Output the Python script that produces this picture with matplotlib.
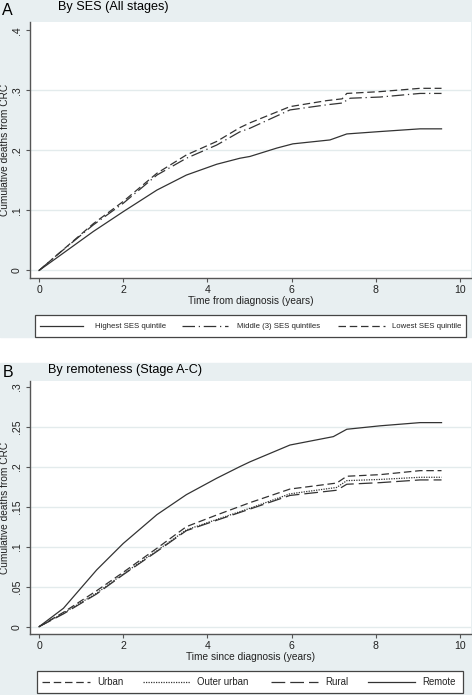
import matplotlib
matplotlib.use("Agg")
import matplotlib.pyplot as plt
from matplotlib.patches import Rectangle
from matplotlib.lines import Line2D

plt.rcParams['font.family'] = ['Liberation Sans', 'DejaVu Sans']

# Panel A: by SES (all stages)
ses_labels = ["Highest SES quintile", "Middle (3) SES quintiles", "Lowest SES quintile"]
t_high = [0, 0.38, 1.29, 2.0, 2.8, 3.5, 4.22, 4.77, 5.01, 5.65, 6.03, 6.91, 7.31, 8.1, 9.05, 9.56]
v_high = [0, .019, .065, .098, .134, .159, .177, .187, .190, .204, .211, .2175, .2275, .2315, .236, .236]
t_mid = [0, 0.38, 1.29, 2.0, 2.8, 3.5, 4.22, 4.77, 5.01, 5.96, 6.83, 7.2, 7.39, 8.1, 9.05, 9.56]
v_mid = [0, .023, .076, .112, .159, .187, .209, .231, .237, .2675, .276, .279, .287, .289, .295, .295]
t_low = [0, 0.38, 1.29, 2.0, 2.8, 3.5, 4.22, 4.77, 5.01, 5.96, 6.83, 7.2, 7.31, 8.1, 9.05, 9.56]
v_low = [0, .023, .078, .115, .162, .1925, .215, .238, .246, .273, .283, .286, .295, .298, .3035, .3035]

# Panel B: by remoteness (stage A-C)
rem_labels = ["Urban", "Outer urban", "Rural", "Remote"]
t_remote = [0, 0.58, 1.37, 2.0, 2.8, 3.5, 4.22, 4.77, 5.01, 5.96, 6.99, 7.31, 8.1, 9.05, 9.56]
v_remote = [0, .023, .071, .104, .140, .165, .1855, .200, .206, .227, .2375, .2467, .251, .255, .255]
t_rem3 = [0, 0.58, 1.37, 2.0, 2.8, 3.5, 4.22, 5.01, 5.96, 7.07, 7.31, 8.1, 9.05, 9.56]
v_urban = [0, .018, .045, .068, .098, .125, .1396, .155, .172, .1795, .188, .190, .195, .195]
v_outer = [0, .017, .042, .066, .095, .121, .134, .148, .166, .174, .1825, .184, .1867, .1867]
v_rural = [0, .016, .041, .065, .094, .120, .133, .147, .164, .1705, .178, .180, .1834, .1834]

W, H = 472, 695
BG = '#e8eff1'
GRID = '#e3ebec'
LC = '#333333'

fig = plt.figure(figsize=(W / 100, H / 100), dpi=100)


def fx(x):
    return x / W


def fy(y):
    return 1 - y / H


# light panel backgrounds (behind the axes)
fig.patches.append(Rectangle((0, fy(337)), 1, 337 / H, transform=fig.transFigure,
                             color=BG, zorder=-10))
fig.patches.append(Rectangle((0, fy(695)), 1, (695 - 363) / H, transform=fig.transFigure,
                             color=BG, zorder=-10))

styles_a = [dict(ls='-'), dict(ls=(0, (10, 3, 1, 3))), dict(ls=(0, (6, 3)))]
styles_b = [dict(ls=(0, (6, 3))), dict(ls=(0, (1, 1))), dict(ls=(0, (11, 4))), dict(ls='-')]


def setup_axes(top, bottom, ylim, yticks, yticklabels, xlabel):
    ax = fig.add_axes([fx(30), fy(bottom), fx(441), (bottom - top) / H])
    ax.set_facecolor('white')
    ax.set_xlim(-0.214, 10.26)
    ax.set_ylim(*ylim)
    for s in ['top', 'right']:
        ax.spines[s].set_visible(False)
    for s in ['left', 'bottom']:
        ax.spines[s].set_color('#555555')
        ax.spines[s].set_linewidth(1.0)
    ax.set_xticks([0, 2, 4, 6, 8, 10])
    ax.set_yticks(yticks)
    ax.set_yticklabels(yticklabels, rotation=90, va='center')
    ax.tick_params(axis='both', length=3, width=0.8, color='#555555',
                   labelsize=7.6, labelcolor='#222222')
    ax.tick_params(axis='x', pad=2)
    ax.tick_params(axis='y', pad=3)
    for yv in yticks[:-1]:
        ax.axhline(yv, color=GRID, lw=1.0, zorder=0)
    ax.set_xlabel(xlabel, fontsize=7.3, color='#222222')
    ax.xaxis.label.set_va('center')
    ax.xaxis.set_label_coords(0.5, -(23 / (bottom - top)))
    ax.set_ylabel("Cumulative deaths from CRC", fontsize=7.3, color='#222222')
    ax.yaxis.label.set_va('center')
    ax.yaxis.set_label_coords(-25 / 441, 0.5)
    return ax


# ---- Panel A ----
axa = setup_axes(22, 278, (-0.0125, 0.414), [0, .1, .2, .3, .4],
                 ['0', '.1', '.2', '.3', '.4'], "Time from diagnosis (years)")
for t, v, st in zip([t_high, t_mid, t_low], [v_high, v_mid, v_low], styles_a):
    axa.plot(t, v, color=LC, lw=0.9, **st)

fig.text(fx(2), fy(10.5), "A", fontsize=11.5, va='center', ha='left')
fig.text(fx(58), fy(7), "By SES (All stages)", fontsize=9.1, va='center', ha='left')

# ---- Panel B ----
axb = setup_axes(381, 634, (-0.0091, 0.307), [0, .05, .1, .15, .2, .25, .3],
                 ['0', '.05', '.1', '.15', '.2', '.25', '.3'], "Time since diagnosis (years)")
for v, st in zip([v_urban, v_outer, v_rural], styles_b[:3]):
    axb.plot(t_rem3, v, color=LC, lw=0.9, **st)
axb.plot(t_remote, v_remote, color=LC, lw=0.9, **styles_b[3])

fig.text(fx(3), fy(372.5), "B", fontsize=11.5, va='center', ha='left')
fig.text(fx(48), fy(370), "By remoteness (Stage A-C)", fontsize=9.1, va='center', ha='left')


# ---- legends ----
def legend_box(x0, x1, y0, y1, entries, styles, fs):
    fig.patches.append(Rectangle((fx(x0), fy(y1)), fx(x1 - x0), (y1 - y0) / H,
                                 transform=fig.transFigure, facecolor='white',
                                 edgecolor='#444444', lw=0.9, zorder=1))
    yc = (y0 + y1) / 2
    for (lx0, lx1, tx, lab), st in zip(entries, styles):
        fig.lines.append(Line2D([fx(lx0), fx(lx1)], [fy(yc), fy(yc)], transform=fig.transFigure,
                                color=LC, lw=0.9, zorder=2, **st))
        fig.text(fx(tx), fy(yc), lab, fontsize=fs, va='center', ha='left', color='#222222')


legend_box(35, 466, 315, 337,
           [(40, 83, 95, ses_labels[0]), (182, 228, 237, ses_labels[1]),
            (338, 385, 392, ses_labels[2])], styles_a, 5.6)
legend_box(37, 463, 671, 693,
           [(42, 90, 97, rem_labels[0]), (143, 190, 197, rem_labels[1]),
            (271, 318, 325, rem_labels[2]), (368, 415, 422, rem_labels[3])], styles_b, 6.9)

fig.savefig("out.png", dpi=100, facecolor='white')
